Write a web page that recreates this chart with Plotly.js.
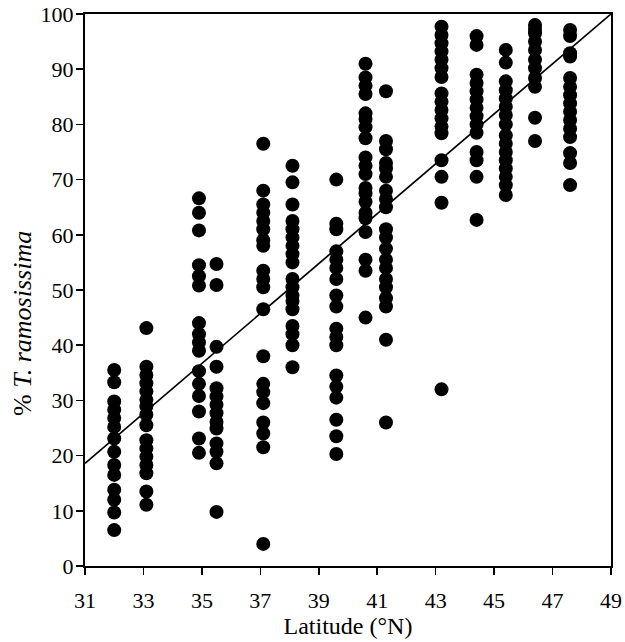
<!DOCTYPE html>
<html>
<head>
<meta charset="utf-8">
<script src="https://cdn.plot.ly/plotly-3.0.1.min.js"></script>
<style>html,body{margin:0;padding:0;background:#fff;}#chart{width:625px;height:642px;}</style>
</head>
<body>
<div id="chart"></div>
<script>
// Site latitudes (°N)
const siteLat = [32.0, 33.1, 34.9, 35.5, 37.1, 38.1, 39.6, 40.6, 41.3, 43.2, 44.4, 45.4, 46.4, 47.6];

// % T. ramosissima per site
const site1 = [35.5, 33.3, 29.8, 28.3, 26.8, 25.2, 23.1, 20.7, 18.3, 16.5, 13.8, 12.0, 9.7, 6.5];
const site2 = [43.1, 36.1, 34.6, 33.1, 31.6, 30.1, 28.9, 27.4, 25.5, 22.8, 21.3, 19.8, 18.3, 16.8, 13.5, 11.1];
const site3 = [66.6, 64.0, 60.8, 54.5, 52.5, 50.8, 44.0, 42.0, 40.5, 39.0, 35.3, 33.0, 30.8, 28.0, 23.1, 20.5];
const site4 = [54.7, 50.9, 39.7, 36.1, 32.2, 30.7, 29.2, 27.7, 26.1, 24.9, 22.2, 20.7, 18.6, 9.8];
const site5 = [76.5, 68.0, 65.5, 64.0, 62.5, 61.0, 59.0, 58.0, 53.5, 52.0, 50.5, 46.5, 38.0, 33.0, 31.5, 29.5, 26.0, 24.0, 21.5, 4.0];
const site6 = [72.5, 69.5, 65.5, 62.5, 61.0, 59.5, 58.0, 56.5, 55.0, 52.0, 50.5, 49.0, 48.0, 46.5, 43.5, 42.0, 40.0, 36.0];
const site7 = [70.0, 62.0, 61.0, 57.0, 55.5, 54.0, 52.0, 49.0, 47.0, 43.0, 41.5, 40.0, 34.5, 32.5, 30.5, 26.5, 23.5, 20.3];
const site8 = [91.0, 88.5, 87.0, 85.5, 82.0, 81.0, 79.5, 77.5, 74.0, 72.5, 71.0, 68.5, 67.5, 66.0, 64.0, 63.0, 60.5, 55.5, 53.5, 45.0];
const site9 = [86.0, 77.0, 75.5, 73.0, 72.0, 70.5, 68.0, 66.5, 65.0, 61.0, 59.5, 57.5, 55.5, 54.0, 52.0, 50.5, 48.5, 47.0, 41.0, 26.0];
const site10 = [97.7, 96.2, 94.7, 93.2, 91.7, 90.2, 88.6, 85.6, 84.1, 82.6, 81.1, 79.6, 78.4, 73.5, 70.5, 65.8, 32.0];
const site11 = [96.0, 94.4, 89.0, 87.5, 86.0, 84.5, 83.0, 81.5, 80.0, 78.5, 75.0, 73.5, 70.5, 62.7];
const site12 = [93.5, 91.2, 87.8, 86.2, 84.7, 83.2, 81.7, 80.0, 78.0, 76.5, 75.0, 73.5, 72.0, 70.5, 69.0, 67.2];
const site13 = [98.0, 97.3, 96.5, 95.0, 93.5, 91.7, 90.2, 88.4, 86.8, 81.2, 77.0];
const site14 = [97.1, 96.0, 92.9, 92.3, 88.4, 86.8, 85.3, 83.8, 82.3, 80.8, 79.2, 77.7, 74.8, 73.0, 69.0];

// Fitted regression line end points
const fitLat = [31, 49];
const fitPct = [18.6, 100];

const xTicks = [31, 33, 35, 37, 39, 41, 43, 45, 47, 49];
const yTicks = [0, 10, 20, 30, 40, 50, 60, 70, 80, 90, 100];

const sites = [site1, site2, site3, site4, site5, site6, site7, site8, site9, site10, site11, site12, site13, site14];
const px = [], py = [];
sites.forEach((vals, i) => { vals.forEach(v => { px.push(siteLat[i]); py.push(v); }); });

const font = {family: '"Liberation Serif", "Times New Roman", serif', color: '#000'};

const traces = [
  {x: fitLat, y: fitPct, mode: 'lines', line: {color: '#000', width: 1.7}, hoverinfo: 'skip', showlegend: false},
  {x: px, y: py, mode: 'markers', marker: {color: '#000', size: 14, line: {width: 0}}, showlegend: false}
];

const layout = {
  width: 625, height: 642,
  margin: {l: 85, r: 14, t: 14, b: 76},
  paper_bgcolor: '#fff', plot_bgcolor: '#fff',
  font: Object.assign({size: 22}, font),
  showlegend: false,
  xaxis: {
    range: [31, 49], tickvals: xTicks, ticktext: xTicks.map(String),
    ticks: 'outside', ticklen: 7, tickwidth: 1.5, tickcolor: '#000',
    showline: true, linecolor: '#000', linewidth: 2, mirror: true,
    showgrid: false, zeroline: false,
    ticklabelstandoff: 7,
    tickfont: Object.assign({size: 22}, font),
    title: {text: 'Latitude (°N)', font: Object.assign({size: 24}, font), standoff: 3}
  },
  yaxis: {
    range: [0, 100], tickvals: yTicks, ticktext: yTicks.map(String),
    ticks: 'outside', ticklen: 7, tickwidth: 1.5, tickcolor: '#000',
    showline: true, linecolor: '#000', linewidth: 2, mirror: true,
    showgrid: false, zeroline: false,
    ticklabelstandoff: -2,
    tickfont: Object.assign({size: 22}, font)
  },
  annotations: [{
    text: '% <i>T. ramosissima</i>', textangle: -90, showarrow: false,
    xref: 'paper', yref: 'paper', x: -0.12, y: 0.44, xanchor: 'center', yanchor: 'middle',
    font: Object.assign({size: 26}, font)
  }]
};

Plotly.newPlot('chart', traces, layout, {displayModeBar: false, staticPlot: true});
</script>
</body>
</html>
